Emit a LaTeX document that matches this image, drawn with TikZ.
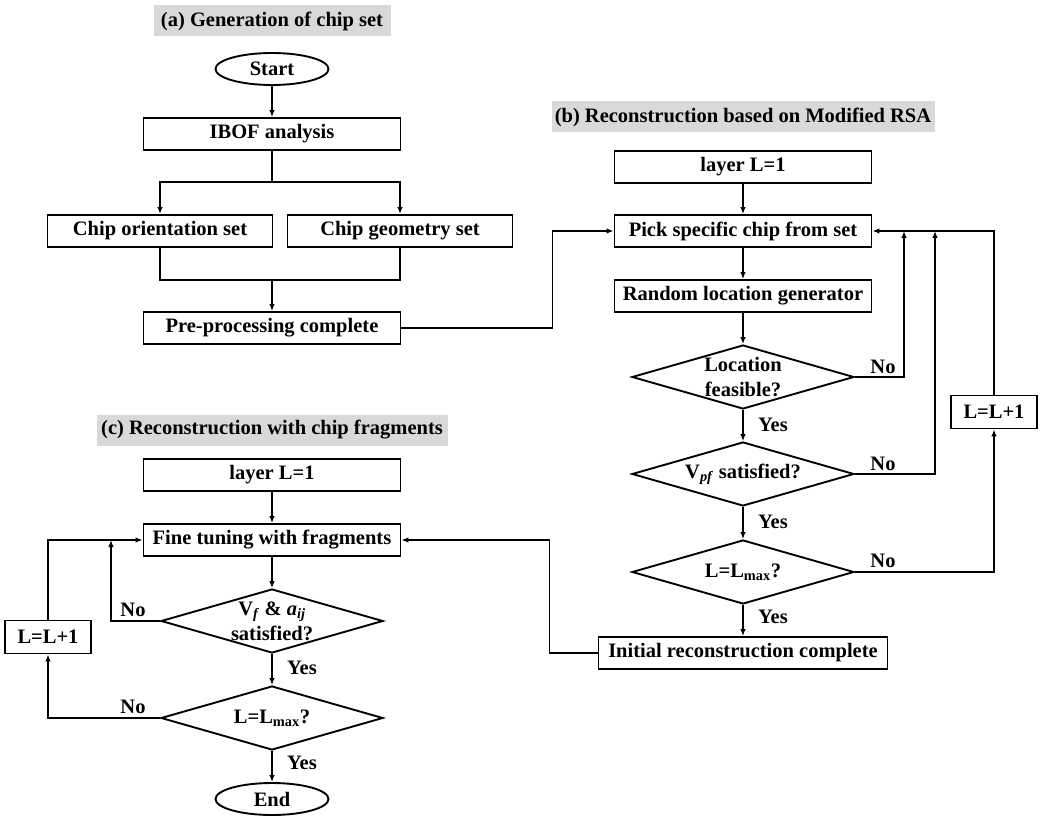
\documentclass[tikz,border=0pt]{standalone}
\usepackage{fontspec}
\setmainfont{Liberation Serif}
\usetikzlibrary{shapes.geometric,arrows.meta}

\newcommand{\chartfont}{\fontsize{20.5}{25}\selectfont\bfseries}
\tikzset{
  procbox/.style={draw,line width=1.9pt,minimum height=32pt,inner sep=0pt,font=\chartfont},
  decision/.style={draw,diamond,aspect=3.5,line width=1.9pt,minimum width=222pt,minimum height=64pt,inner sep=-6pt,align=center,font=\chartfont},
  terminal/.style={draw,ellipse,line width=1.9pt,minimum width=113pt,minimum height=32pt,inner sep=0pt,font=\chartfont},
  sectitle/.style={fill=black!15,inner sep=0pt,minimum height=31pt,font=\chartfont},
  answer/.style={font=\chartfont},
  flow/.style={line width=1.3pt,-{Latex[length=7pt,width=5.5pt]}},
  link/.style={line width=1.3pt}
}

\begin{document}
\begin{tikzpicture}[x=1pt,y=-1pt]
\useasboundingbox (0,0) rectangle (1050,821);

% (a) generation of chip set
\node[sectitle,minimum width=237pt] (tita) at (272,21) {(a) Generation of chip set};
\node[terminal] (start) at (272,69) {Start};
\node[procbox,minimum width=257pt] (ibof) at (272,134) {IBOF analysis};
\node[procbox,minimum width=225pt] (orient) at (160,231) {Chip orientation set};
\node[procbox,minimum width=225pt] (geom) at (400,231) {Chip geometry set};
\node[procbox,minimum width=257pt] (prep) at (272,328) {Pre-processing complete};
\coordinate (split) at (272,182);
\coordinate (merge) at (272,280);

\draw[flow] (start) -- (ibof);
\draw[link] (ibof) -- (split);
\draw[flow] (split) -| (orient);
\draw[flow] (split) -| (geom);
\draw[link] (orient) |- (merge);
\draw[link] (geom) |- (merge);
\draw[flow] (merge) -- (prep);

% (b) reconstruction based on modified RSA
\node[sectitle,minimum width=383pt] (titb) at (743,117) {(b) Reconstruction based on Modified RSA};
\node[procbox,minimum width=257pt] (layerb) at (743,167) {layer L=1};
\node[procbox,minimum width=257pt] (pick) at (743,231) {Pick specific chip from set};
\node[procbox,minimum width=257pt] (random) at (743,296) {Random location generator};
\node[decision] (feas) at (743,377) {Location\\feasible?};
\node[decision] (vpf) at (743,474) {V\textsubscript{\textit{pf}} satisfied?};
\node[decision] (lmaxb) at (743,572) {L=L\textsubscript{max}?};
\node[procbox,minimum width=289pt] (initb) at (743,653) {Initial reconstruction complete};
\node[procbox,minimum width=86pt,minimum height=33pt] (incb) at (994,412) {L=L+1};
\coordinate (nofeas) at (904,231);
\coordinate (novpf) at (935,231);

\draw[flow] (prep.east) -- ++(151,0) |- (pick.west);
\draw[flow] (layerb) -- (pick);
\draw[flow] (pick) -- (random);
\draw[flow] (random) -- (feas);
\draw[flow] (feas) -- (vpf);
\draw[flow] (vpf) -- (lmaxb);
\draw[flow] (lmaxb) -- (initb);
\draw[flow] (feas.east) -| (nofeas);
\draw[flow] (vpf.east) -| (novpf);
\draw[flow] (lmaxb.east) -| (incb.south);
\draw[flow] (incb.north) |- (pick.east);
\node[answer] (yb1) at (773,425) {Yes};
\node[answer] (yb2) at (773,522) {Yes};
\node[answer] (yb3) at (773,617) {Yes};
\node[answer] (nb1) at (883,367) {No};
\node[answer] (nb2) at (883,464) {No};
\node[answer] (nb3) at (883,561) {No};

% (c) reconstruction with chip fragments
\node[sectitle,minimum width=351pt] (titc) at (272,430) {(c) Reconstruction with chip fragments};
\node[procbox,minimum width=257pt] (layerc) at (272,475) {layer L=1};
\node[procbox,minimum width=257pt] (fine) at (272,540) {Fine tuning with fragments};
\node[decision] (vfa) at (272,621) {V\textsubscript{\textit{f}} \& \textit{a}\textsubscript{\textit{ij}}\\satisfied?};
\node[decision] (lmaxc) at (272,718) {L=L\textsubscript{max}?};
\node[terminal] (endn) at (272,799) {End};
\node[procbox,minimum width=86pt,minimum height=33pt] (incc) at (48,637) {L=L+1};
\coordinate (novfa) at (111,540);

\draw[flow] (initb.west) -- ++(-48,0) |- (fine.east);
\draw[flow] (layerc) -- (fine);
\draw[flow] (fine) -- (vfa);
\draw[flow] (vfa) -- (lmaxc);
\draw[flow] (lmaxc) -- (endn);
\draw[flow] (vfa.west) -| (novfa);
\draw[flow] (lmaxc.west) -| (incc.south);
\draw[flow] (incc.north) |- (fine.west);
\node[answer] (yc1) at (302,668) {Yes};
\node[answer] (yc2) at (302,763) {Yes};
\node[answer] (nc1) at (133,610) {No};
\node[answer] (nc2) at (133,707) {No};
\end{tikzpicture}
\end{document}
